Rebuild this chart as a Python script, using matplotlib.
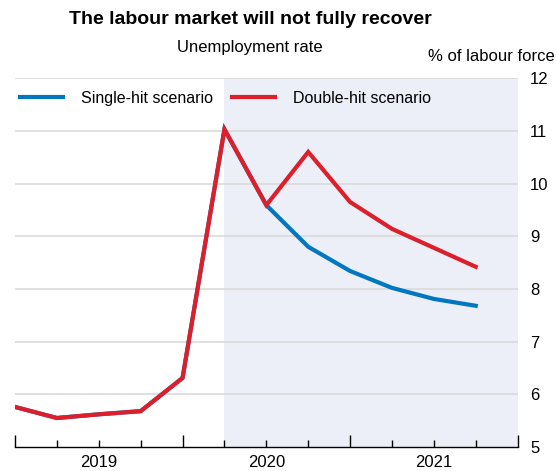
import matplotlib.pyplot as plt
import matplotlib.ticker as mticker

plt.rcParams['font.family'] = ['Liberation Sans', 'DejaVu Sans']

# Quarterly unemployment rate, 2019Q1 - 2021Q4 (% of labour force)
quarters = list(range(12))
single_hit = [5.76, 5.55, 5.62, 5.68, 6.31, 11.03, 9.59, 8.80, 8.34, 8.02, 7.81, 7.68]
double_hit = [5.76, 5.55, 5.62, 5.68, 6.31, 11.03, 9.59, 10.60, 9.65, 9.14, 8.78, 8.42]
years = ['2019', '2020', '2021']
projection_start = 5

blue = '#0077C0'
red = '#DC1F2A'

fig = plt.figure(figsize=(5.56, 4.71), dpi=100)
ax = fig.add_axes([0.027, 0.051, 0.904, 0.783])

ax.axvspan(projection_start, 12, color='#ECEFF7', lw=0, zorder=0)
for v in range(6, 13):
    ax.axhline(v, color='#DADADA', lw=1.2, zorder=1)

ax.plot(quarters, single_hit, color=blue, lw=3.0, label='Single-hit scenario', zorder=3,
        solid_joinstyle='miter')
ax.plot(quarters, double_hit, color=red, lw=3.0, label='Double-hit scenario', zorder=4,
        solid_joinstyle='miter')

ax.set_xlim(0, 12)
ax.set_ylim(5, 12)

for s in ['left', 'top', 'right']:
    ax.spines[s].set_visible(False)
ax.spines['bottom'].set_linewidth(1.0)

# year ticks at boundaries, quarter ticks in between, labels centred on each year
ax.xaxis.set_major_locator(mticker.FixedLocator([0, 4, 8, 12]))
ax.xaxis.set_minor_locator(mticker.FixedLocator([1, 2, 3, 5, 6, 7, 9, 10, 11]))
ax.tick_params(axis='x', which='major', direction='in', length=9, width=1.0, labelbottom=False)
ax.tick_params(axis='x', which='minor', direction='in', length=5, width=1.0)
for i, yr in enumerate(years):
    ax.text(2 + 4 * i, -0.043, yr, transform=ax.get_xaxis_transform(),
            ha='center', va='center', fontsize=12)

ax.yaxis.tick_right()
ax.set_yticks(range(5, 13))
ax.tick_params(axis='y', length=0, labelsize=12, pad=9)

leg = ax.legend(loc='upper left', bbox_to_anchor=(-0.004, 0.986), ncol=2, frameon=False,
                fontsize=11.5, handlelength=2.7, handletextpad=1.1, columnspacing=1.2,
                borderaxespad=0.0, borderpad=0.45)

fig.text(0.45, 0.958, 'The labour market will not fully recover', ha='center',
         va='center', fontsize=14, fontweight='bold')
fig.text(0.45, 0.90, 'Unemployment rate', ha='center', va='center', fontsize=12)
fig.text(0.998, 0.881, '% of labour force', ha='right', va='center', fontsize=12)

fig.savefig('out.png', dpi=100)
